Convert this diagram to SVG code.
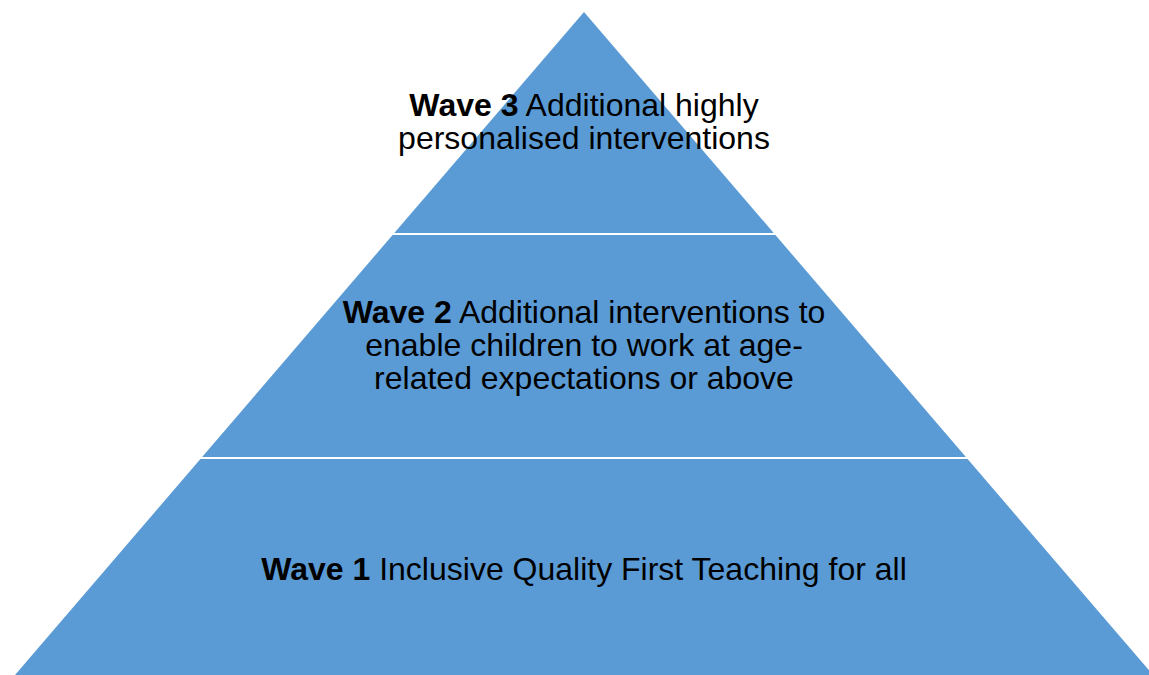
<svg xmlns="http://www.w3.org/2000/svg" width="1149" height="675" viewBox="0 0 1149 675">
<style>
.band{fill:#5B9BD5}
.t{font-family:"Liberation Sans",Arial,sans-serif;font-size:32px;fill:#000;text-anchor:middle}
.b{font-weight:bold}
</style>
<rect width="1149" height="675" fill="#fff"/>
<g id="wave3">
<polygon class="band" points="584,12 773.7,233 394.3,233"/>
<text class="t" x="584" y="116"><tspan class="b">Wave 3</tspan> Additional highly</text>
<text class="t" x="584" y="149">personalised interventions</text>
</g>
<g id="wave2">
<polygon class="band" points="392.6,235 775.4,235 965.9,457 202.1,457"/>
<text class="t" x="584" y="323"><tspan class="b">Wave 2</tspan> Additional interventions to</text>
<text class="t" x="584" y="356">enable children to work at age-</text>
<text class="t" x="584" y="389">related expectations or above</text>
</g>
<g id="wave1">
<polygon class="band" points="200.4,459 967.6,459 1153,675 15,675"/>
<text class="t" x="584" y="580"><tspan class="b">Wave 1</tspan> Inclusive Quality First Teaching for all</text>
</g>
<g id="connectors"/>
</svg>
